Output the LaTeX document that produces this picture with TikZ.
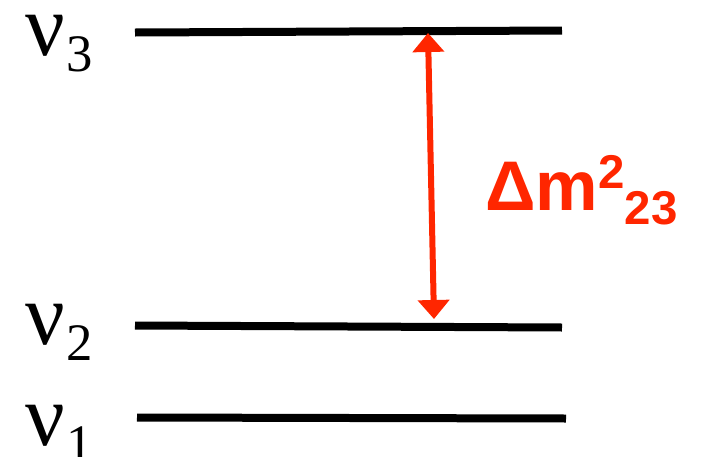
\documentclass[tikz,border=0pt]{standalone}
\usepackage{fontspec}
\setmainfont{Liberation Serif}
\newfontfamily\massfont{Liberation Sans}
\usetikzlibrary{arrows.meta}
\definecolor{splitred}{RGB}{255,38,0}

\newcommand{\statelabel}[1]{ν\kern1pt\lower9.6pt\hbox{\fontsize{30}{30}\selectfont #1}}

\begin{document}
\begin{tikzpicture}[x=0.02cm, y=-0.02cm,
    level/.style={line width=0.16cm},
    state/.style={font=\fontsize{50}{50}\selectfont, inner sep=0pt, anchor=base west},
    gap/.style={{Triangle[length=0.38cm,width=0.62cm]}-{Triangle[length=0.38cm,width=0.62cm]}, line width=0.12cm, splitred},
    gaplabel/.style={font=\massfont\bfseries\fontsize{40}{40}\selectfont, text=splitred, inner sep=0pt, anchor=base west}
]
\useasboundingbox (0,0) rectangle (701,457);

% mass levels
\coordinate (l3a) at (135,32.5);
\coordinate (l3b) at (562,30.5);
\coordinate (l2a) at (135,325.5);
\coordinate (l2b) at (562,327.5);
\coordinate (l1a) at (137,417.5);
\coordinate (l1b) at (566,418.5);

\draw[level] (l3a) -- (l3b);
\draw[level] (l2a) -- (l2b);
\draw[level] (l1a) -- (l1b);

\node[state] (nu3) at (25,55) {\statelabel{3}};
\node[state] (nu2) at (25,344) {\statelabel{2}};
\node[state] (nu1) at (25,445) {\statelabel{1}};

% splitting
\coordinate (gtop) at (428,33);
\coordinate (gbot) at (434,319);
\draw[gap] (gtop) -- (gbot);

\node[gaplabel] (dm) at (485,210) {Δm\raise12.5pt\hbox{\fontsize{27}{27}\selectfont 2}\lower8.5pt\hbox{\fontsize{27}{27}\selectfont 23}};
\end{tikzpicture}
\end{document}
